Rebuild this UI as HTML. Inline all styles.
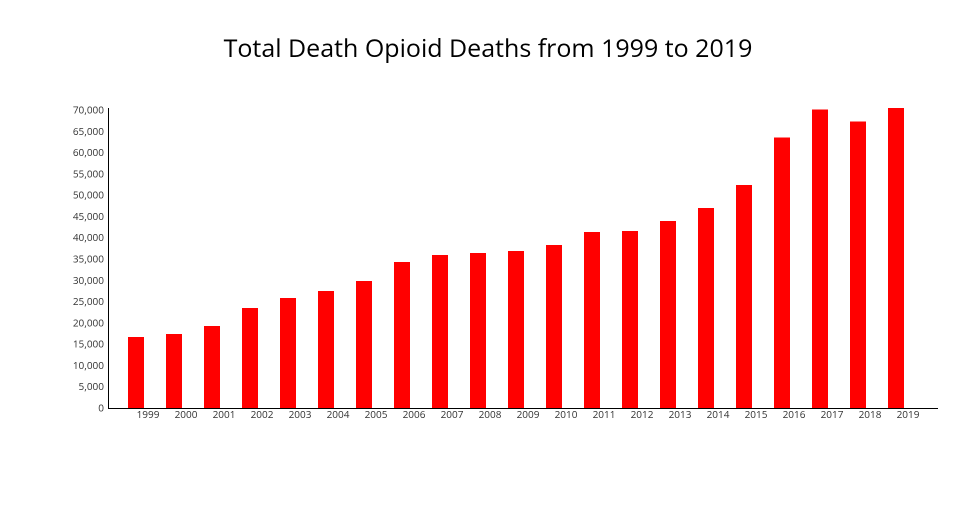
<!DOCTYPE html>
<html><head><meta charset="utf-8"><style>
body{margin:0;background:#fff;width:960px;height:500px;overflow:hidden}
text{font-family:"Open Sans","DejaVu Sans","Liberation Sans",sans-serif;fill:#333}
</style></head><body>
<svg width="960" height="500" xmlns="http://www.w3.org/2000/svg">
<text x="488" y="57" text-anchor="middle" style="font-size:25px;fill:#000">Total Death Opioid Deaths from 1999 to 2019</text>
<g id="y" font-size="10" text-anchor="end"></g>
<g id="b"></g>
<line x1="108.5" y1="108" x2="108.5" y2="408.5" stroke="#000" stroke-width="1"/>
<line x1="108" y1="408.5" x2="938" y2="408.5" stroke="#000" stroke-width="1"/>
<g id="x" font-size="10" text-anchor="middle"></g>
</svg>
<script>
var ns="http://www.w3.org/2000/svg";
function el(t,a,p,txt){var e=document.createElementNS(ns,t);for(var k in a)e.setAttribute(k,a[k]);if(txt)e.textContent=txt;document.getElementById(p).appendChild(e);}
for(var i=0;i<=14;i++){var v=i*5000;var y=408-v*298/70000;el("text",{x:104,y:y+3.5},"y",v.toLocaleString("en-US"));}
var tops=[337,334,326,308,298,291,281,262,255,253,251,245,232,231,221,208,185,137.5,109.5,121.5,108];
for(var i=0;i<21;i++){var x=128+i*38;el("rect",{x:x,y:tops[i],width:16,height:408-tops[i],fill:"#ff0000"},"b");el("text",{x:x+20,y:418},"x",String(1999+i));}
</script>
</body></html>
